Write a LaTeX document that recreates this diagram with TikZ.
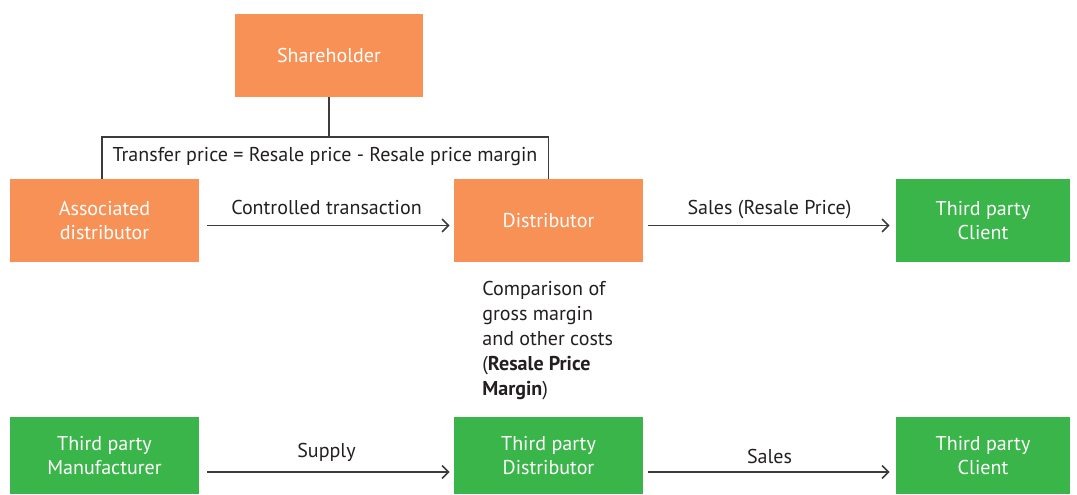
\documentclass[tikz,border=0pt]{standalone}
\usepackage{fontspec}
\usetikzlibrary{arrows.meta}
\setmainfont{PT Sans}
\definecolor{boxorange}{RGB}{247,145,86}
\definecolor{boxgreen}{RGB}{58,181,74}
\definecolor{linegray}{RGB}{60,60,60}
\definecolor{textdark}{RGB}{35,31,32}
\begin{document}
\begin{tikzpicture}[x=0.02cm,y=-0.02cm]
	
	\tikzstyle{mybox}=[rectangle,
	text=white,
	align=center,
	inner sep=0pt,
	minimum width=3.78cm,
	minimum height=1.66cm,
	font=\fontsize{11.4}{14.2}\selectfont
	]
	\tikzstyle{orangebox}=[mybox, fill=boxorange]
	\tikzstyle{greenbox}=[mybox, fill=boxgreen]
	\tikzstyle{mylabel}=[text=textdark, font=\fontsize{11.4}{14.2}\selectfont]
	\tikzstyle{arrowlabel}=[mylabel, text height=8.5pt, text depth=2.5pt]
	\tikzstyle{myline}=[-, draw=linegray, line width=0.9pt]
	\tikzstyle{myarrow}=[-{Straight Barb[length=1.3mm,width=2.6mm]}, draw=linegray, line width=0.9pt]
	
	\useasboundingbox (0,0) rectangle (1077,494);
	
	\coordinate (pshare) at (329, 55.5);
	\coordinate (passoc) at (104.5, 220.5);
	\coordinate (pdist) at (548.5, 220.5);
	\coordinate (pclient) at (983, 220.5);
	
	\coordinate (pmanu) at (104.5, 455.5);
	\coordinate (ptpdist) at (548.5, 455.5);
	\coordinate (ptpclient) at (983, 455.5);
	
	\coordinate (bar) at (332, 137);
	
	\node[orangebox] (share) at (pshare) {Shareholder};
	\node[orangebox] (assoc) at (passoc) {Associated\\distributor};
	\node[orangebox] (dist) at (pdist) {Distributor};
	\node[greenbox, minimum width=3.48cm] (client) at (pclient) {Third party\\Client};
	
	\node[greenbox, minimum height=1.54cm] (manu) at (pmanu) {Third party\\Manufacturer};
	\node[greenbox, minimum height=1.54cm] (tpdist) at (ptpdist) {Third party\\Distributor};
	\node[greenbox, minimum height=1.54cm, minimum width=3.48cm] (tpclient) at (ptpclient) {Third party\\Client};
	
	\draw[myline] (share) -- (share.south |- bar);
	\draw[myline] ([xshift=-0.05cm]assoc.north) |- (bar) -| (dist.north);
	\node[mylabel] (transfer) at (325, 157) {Transfer price = Resale price - Resale price margin};
	
	\draw[myarrow, shorten <=0.16cm, shorten >=0.08cm] ([yshift=-0.1cm]assoc.east) -- node[arrowlabel, above=0pt] {Controlled transaction} ([yshift=-0.1cm]dist.west);
	\draw[myarrow, shorten <=0.1cm, shorten >=0.12cm] ([yshift=-0.1cm]dist.east) -- node[arrowlabel, above=0pt] {Sales (Resale Price)} ([yshift=-0.1cm]client.west);
	
	\draw[myarrow, shorten <=0.16cm, shorten >=0.08cm] ([yshift=-0.33cm]manu.east) -- node[arrowlabel, above=0.07cm] {Supply} ([yshift=-0.33cm]tpdist.west);
	\draw[myarrow, shorten <=0.1cm, shorten >=0.12cm] ([yshift=-0.33cm]tpdist.east) -- node[arrowlabel, above=-0.05cm] {Sales} ([yshift=-0.33cm]tpclient.west);
	
	\node[mylabel, align=left, anchor=north west, inner sep=0pt] (compare) at (482, 281) {Comparison of\\gross margin\\and other costs\\(\textbf{Resale Price}\\\textbf{Margin})};
	
\end{tikzpicture}
\end{document}
